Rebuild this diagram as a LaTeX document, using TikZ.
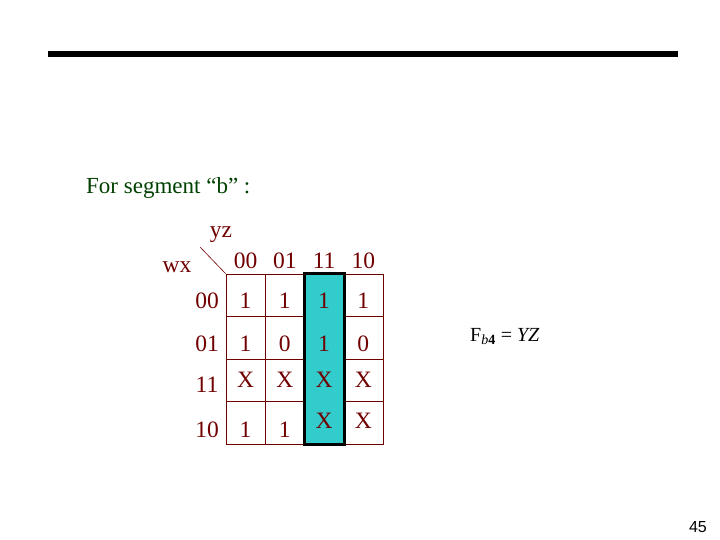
\documentclass[tikz,border=0pt]{standalone}
\usepackage{fontspec}
\setmainfont{Liberation Serif}
\newfontfamily\numberfont{Liberation Sans}
\usetikzlibrary{calc}
\definecolor{kmapred}{RGB}{112,0,0}
\definecolor{segmentgreen}{RGB}{0,64,0}
\definecolor{groupcyan}{RGB}{51,204,204}
\tikzstyle{cell}=[rectangle,draw=kmapred,line width=0.8pt,minimum width=39.25pt,minimum height=42.5pt,inner sep=0pt]
\tikzstyle{value}=[text=kmapred,font=\fontsize{23.5}{26}\selectfont,inner sep=0pt,anchor=base]
\tikzstyle{group}=[draw=black,line width=3pt,fill=groupcyan]

\begin{document}
\begin{tikzpicture}[x=1pt,y=-1pt]
   \useasboundingbox (0,0) rectangle (720,540);

   % title rule
   \draw[line width=6pt] (48,54) -- (678,54);

   \node[text=segmentgreen,font=\fontsize{23}{26}\selectfont,anchor=base west,inner sep=0pt] (title) at (86,194) {For segment “b” :};

   % map cells
   \foreach \r in {0,...,3}
      \foreach \c in {0,...,3}
         \node[cell] (c\r\c) at ({245.6+39.25*\c},{295.25+42.5*\r}) {};

   \draw[group] (c02.north west) rectangle (c32.south east);

   % column and row headings
   \node[value] (yz) at (221,237) {yz};
   \node[value] (wx) at (177,272) {wx};
   \coordinate (corner) at (200,247);
   \draw[kmapred,line width=0.6pt] (corner) -- (c00.north west);

   \foreach \name/ \label in {c00/00,c01/01,c02/11,c03/10}
      \node[value] (h\name) at (\name |- 0,268) {\label};

   \foreach \name/ \label/ \base in {c00/00/308,c10/01/351,c20/11/392,c30/10/437}
      \node[value] (r\name) at (207,\base) {\label};

   % cell values
   \foreach \name/ \label/ \base in {c00/1/308,c01/1/308,c02/1/308,c03/1/308,
         c10/1/351,c11/0/351,c12/1/351,c13/0/351,
         c20/X/387,c21/X/387,c22/X/387,c23/X/387,
         c30/1/437,c31/1/437,c32/X/428,c33/X/428}
      \node[value] (v\name) at (\name |- 0,\base) {\label};

   \node[font=\fontsize{20}{22}\selectfont,anchor=base west,inner sep=0pt] (func) at (470,341) {F\textsubscript{\textit{b}\textbf{4}} = \textit{YZ}};

   \node[font=\numberfont\fontsize{16}{18}\selectfont,anchor=base east,inner sep=0pt] (page) at (707,532) {45};
\end{tikzpicture}
\end{document}
